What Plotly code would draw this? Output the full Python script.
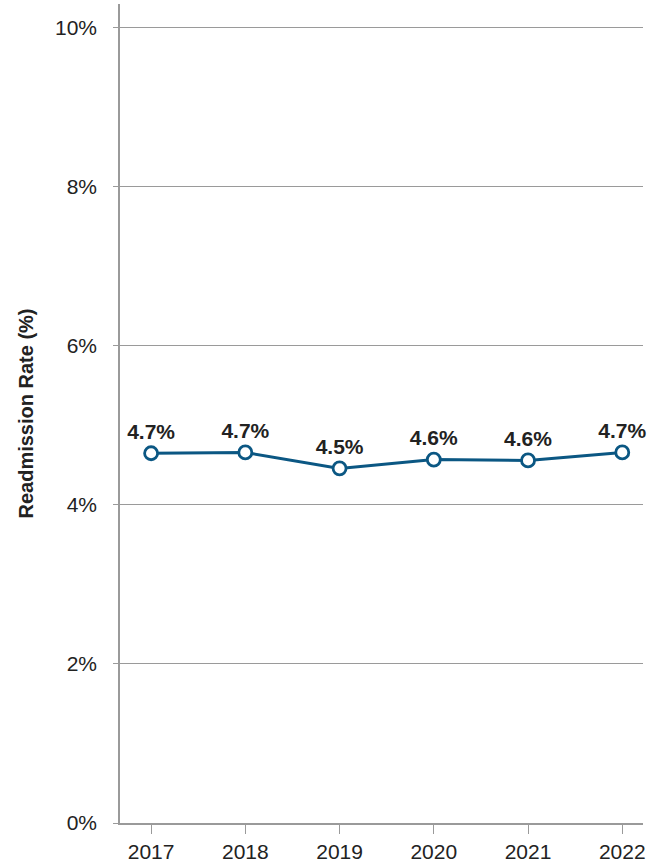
import plotly.graph_objects as go

# Readmission rate by year
years = [2017, 2018, 2019, 2020, 2021, 2022]
rates = [4.65, 4.66, 4.46, 4.57, 4.56, 4.66]
y_ticks = [0, 2, 4, 6, 8, 10]
y_tick_text = ["0%", "2%", "4%", "6%", "8%", "10%"]

line_color = "#0b5783"
grid_color = "#9a9a9a"
text_color = "#222222"

labels = [f"{v:.1f}%" for v in rates]

fig = go.Figure()
fig.add_trace(go.Scatter(
    x=years,
    y=rates,
    mode="lines+markers+text",
    text=labels,
    textposition="top center",
    textfont=dict(family="Liberation Sans, Arial, sans-serif",
                  size=21, color=text_color, weight="bold"),
    line=dict(color=line_color, width=3),
    marker=dict(size=13, color="white", line=dict(color=line_color, width=2.8)),
    cliponaxis=False,
    showlegend=False,
))

fig.update_layout(
    width=662,
    height=867,
    margin=dict(l=120, r=19, t=4, b=42),
    paper_bgcolor="white",
    plot_bgcolor="white",
    font=dict(family="Liberation Sans, Arial, Helvetica, sans-serif", color=text_color, size=21),
    xaxis=dict(
        range=[2016.67, 2022.22],
        tickmode="array",
        tickvals=years,
        ticktext=[str(y) for y in years],
        showgrid=False,
        zeroline=False,
        showline=True,
        linecolor=grid_color,
        linewidth=1.5,
        ticks="outside",
        ticklen=9,
        tickwidth=1.3,
        tickcolor=grid_color,
        tickfont=dict(size=21, color=text_color),
    ),
    yaxis=dict(
        range=[0, 10.3],
        tickmode="array",
        tickvals=y_ticks,
        ticktext=y_tick_text,
        showgrid=True,
        gridcolor=grid_color,
        gridwidth=1,
        zeroline=False,
        showline=True,
        linecolor=grid_color,
        linewidth=1.5,
        ticks="outside",
        ticklen=5,
        tickwidth=1,
        tickcolor=grid_color,
        ticklabelstandoff=12,
        tickfont=dict(size=21, color=text_color),
        title=dict(text="Readmission Rate (%)",
                   font=dict(size=20, color=text_color, weight="bold"),
                   standoff=16),
    ),
)

fig.write_html("out.html")
